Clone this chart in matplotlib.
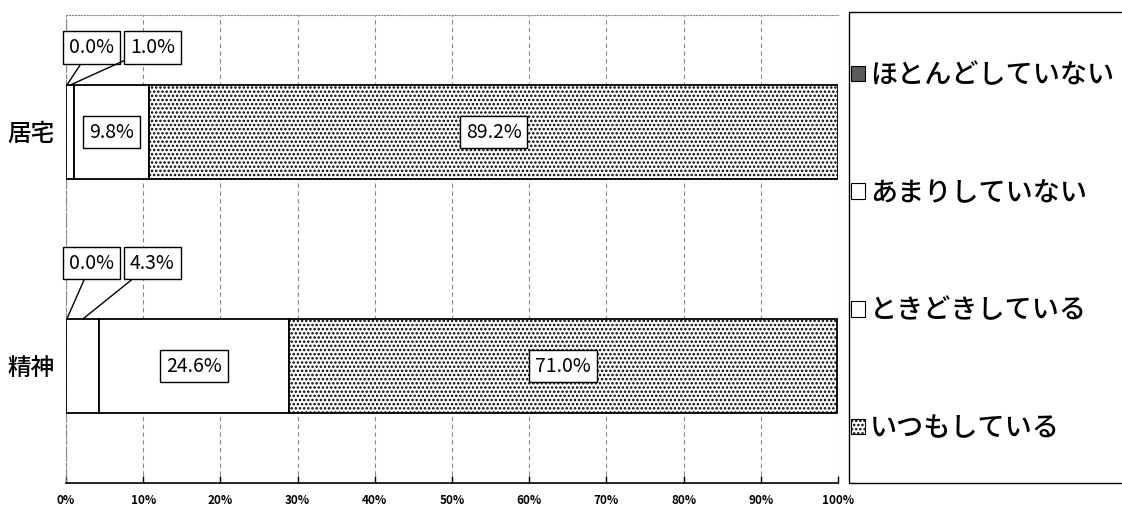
import numpy as np
import matplotlib
matplotlib.use('Agg')
import matplotlib.pyplot as plt
from matplotlib.patches import Patch, Rectangle

plt.rcParams['font.family'] = ['Noto Sans CJK JP', 'DejaVu Sans']
plt.rcParams['hatch.linewidth'] = 1.2

# データ (下から: 精神, 居宅)
categories = ['精神', '居宅']
hotondo = [0.0, 0.0]      # ほとんどしていない
amari = [4.3, 1.0]        # あまりしていない
tokidoki = [24.6, 9.8]    # ときどきしている
itsumo = [71.0, 89.2]     # いつもしている
series_names = ['ほとんどしていない', 'あまりしていない', 'ときどきしている', 'いつもしている']
xticks = [0, 10, 20, 30, 40, 50, 60, 70, 80, 90, 100]

series = [hotondo, amari, tokidoki, itsumo]
faces = ['#5a5a5a', 'white', 'white', 'white']
hatches = [None, None, None, '....']

W, H = 1122, 508
fig = plt.figure(figsize=(W / 100, H / 100), dpi=100)
ax = fig.add_axes([66/W, 1 - 483/H, (838 - 66)/W, (483 - 15)/H])

y = np.arange(len(categories))
h = 0.4
left = np.zeros(len(categories))
for vals, fc, ht in zip(series, faces, hatches):
    ax.barh(y, vals, left=left, height=h, color=fc, edgecolor='black',
            linewidth=1.3, hatch=ht, zorder=3)
    left = left + np.array(vals)

# 中の値ラベル
fs = 14
box = dict(boxstyle='square,pad=0.3', fc='white', ec='black', lw=1)
left = np.array(hotondo) + np.array(amari)
for i in range(len(categories)):
    ax.text(left[i] + tokidoki[i] / 2, y[i], f'{tokidoki[i]:.1f}%', ha='center',
            va='center', fontsize=fs, bbox=box, zorder=5)
    ax.text(left[i] + tokidoki[i] + itsumo[i] / 2, y[i], f'{itsumo[i]:.1f}%',
            ha='center', va='center', fontsize=fs, bbox=box, zorder=5)

# 小さい値は引き出し線付き
dy = [0.44, 0.36]
for i in range(len(categories)):
    top = y[i] + h / 2
    ax.annotate(f'{hotondo[i]:.1f}%', xy=(0.1, top), xytext=(3.3, y[i] + dy[i]),
                ha='center', va='center', fontsize=fs, bbox=box, zorder=5,
                arrowprops=dict(arrowstyle='-', color='black', lw=1, shrinkA=0, shrinkB=0))
    ax.annotate(f'{amari[i]:.1f}%', xy=(hotondo[i] + amari[i] / 2, top),
                xytext=(11.2, y[i] + dy[i]), ha='center', va='center', fontsize=fs,
                bbox=box, zorder=5,
                arrowprops=dict(arrowstyle='-', color='black', lw=1, shrinkA=0, shrinkB=0))

ax.set_xlim(0, 100)
ax.set_ylim(-0.5, 1.5)
ax.set_xticks(xticks)
ax.set_xticklabels([f'{t}%' for t in xticks], fontsize=8.5, fontweight='bold')
ax.set_yticks(y)
ax.set_yticklabels(categories, fontsize=17, fontweight='medium')
ax.tick_params(axis='y', length=0, pad=8)
ax.tick_params(axis='x', direction='in', length=5, pad=8, width=1)
ax.xaxis.grid(True, color='#888888', linestyle=(0, (4, 3)), linewidth=0.8, zorder=0)
ax.spines['top'].set_linestyle(':')
ax.spines['top'].set_color('#888888')
ax.spines['right'].set_visible(False)
ax.spines['left'].set_linestyle((0, (3, 2)))
ax.spines['left'].set_color('#888888')
ax.spines['bottom'].set_linewidth(1.2)

# 凡例の枠
fig.patches.append(Rectangle((849/W, 1 - 483/H), 300/W, 471/H, transform=fig.transFigure,
                             fill=False, edgecolor='black', linewidth=1))

handles = [Patch(facecolor=fc, edgecolor='black', hatch=('....' if hatches[k] else None), linewidth=0.8)
           for k, fc in enumerate(faces)]
leg = fig.legend(handles, series_names, loc='upper left',
                 bbox_to_anchor=(851/W, 1 - 62/H), bbox_transform=fig.transFigure,
                 prop={'size': 19.5, 'weight': 'medium'}, frameon=False,
                 handlelength=0.5, handleheight=0.5, handletextpad=0.2,
                 labelspacing=3.35, borderpad=0, borderaxespad=0)

fig.savefig('out.png', dpi=100)
